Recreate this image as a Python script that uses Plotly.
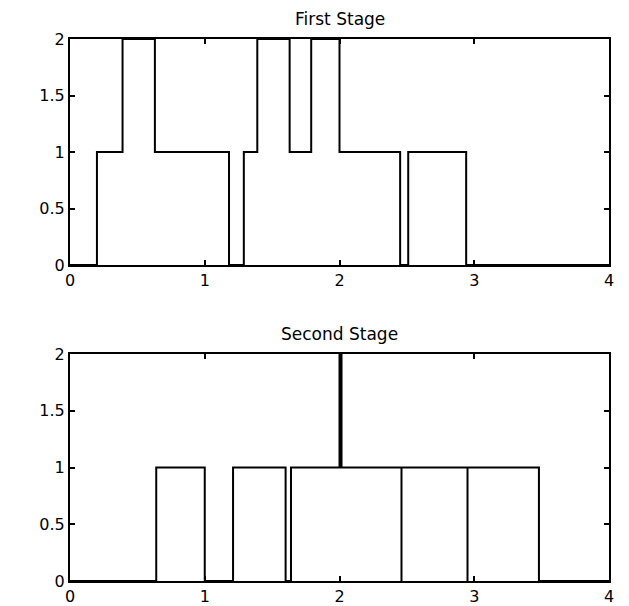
import plotly.graph_objects as go

# First stage step function: breakpoints and held values
stage1_x = [0, 0.20, 0.39, 0.63, 1.18, 1.29, 1.39, 1.63, 1.79, 2.00, 2.45, 2.51, 2.94, 4.0]
stage1_y = [0, 1, 2, 1, 0, 1, 2, 1, 2, 1, 0, 1, 0, 0]

# Second stage step function
stage2_x = [0, 0.64, 1.00, 1.21, 1.60, 1.64, 2.00, 2.015, 2.46, 2.46, 2.95, 2.95, 3.48, 4.0]
stage2_y = [0, 1, 0, 1, 0, 1, 2, 1, 0, 1, 0, 1, 0, 0]

titles = ["First Stage", "Second Stage"]
x_ticks = [0, 1, 2, 3, 4]
y_ticks = [0, 0.5, 1, 1.5, 2]
y_tick_labels = ["0", "0.5", "1", "1.5", "2"]

W, H = 629, 606
OFF = 8  # page body margin offset
x_dom = [(70 - OFF) / W, (609 - OFF) / W]
y_dom1 = [(H - (265 - OFF)) / H, (H - (39 - OFF)) / H]
y_dom2 = [(H - (581 - OFF)) / H, (H - (354 - OFF)) / H]

fig = go.Figure()
fig.add_trace(go.Scatter(x=stage1_x, y=stage1_y, mode="lines", line=dict(shape="hv", color="black", width=2),
                         xaxis="x", yaxis="y", showlegend=False))
fig.add_trace(go.Scatter(x=stage2_x, y=stage2_y, mode="lines", line=dict(shape="hv", color="black", width=2),
                         xaxis="x2", yaxis="y2", showlegend=False))

font = dict(family="DejaVu Sans", size=16, color="black")
ax_common = dict(showline=True, linecolor="black", linewidth=2, mirror="ticks", ticks="inside",
                 ticklen=5, tickwidth=1.5, tickcolor="black", showgrid=False, zeroline=False,
                 tickfont=font, automargin=False)

title_font = dict(family="DejaVu Sans", size=17, color="black")
fig.update_layout(
    width=W, height=H, margin=dict(l=0, r=0, t=0, b=0),
    paper_bgcolor="white", plot_bgcolor="white",
    xaxis=dict(domain=x_dom, range=[0, 4], tickvals=x_ticks, anchor="y", **ax_common),
    yaxis=dict(domain=y_dom1, range=[0, 2], tickvals=y_ticks, ticktext=y_tick_labels, anchor="x", **ax_common),
    xaxis2=dict(domain=x_dom, range=[0, 4], tickvals=x_ticks, anchor="y2", **ax_common),
    yaxis2=dict(domain=y_dom2, range=[0, 2], tickvals=y_ticks, ticktext=y_tick_labels, anchor="x2", **ax_common),
    annotations=[
        dict(text=titles[0], x=(x_dom[0] + x_dom[1]) / 2, y=y_dom1[1], xref="paper", yref="paper",
             xanchor="center", yanchor="bottom", yshift=8, showarrow=False, font=title_font),
        dict(text=titles[1], x=(x_dom[0] + x_dom[1]) / 2, y=y_dom2[1], xref="paper", yref="paper",
             xanchor="center", yanchor="bottom", yshift=8, showarrow=False, font=title_font),
    ],
)

fig.write_html("out.html")
